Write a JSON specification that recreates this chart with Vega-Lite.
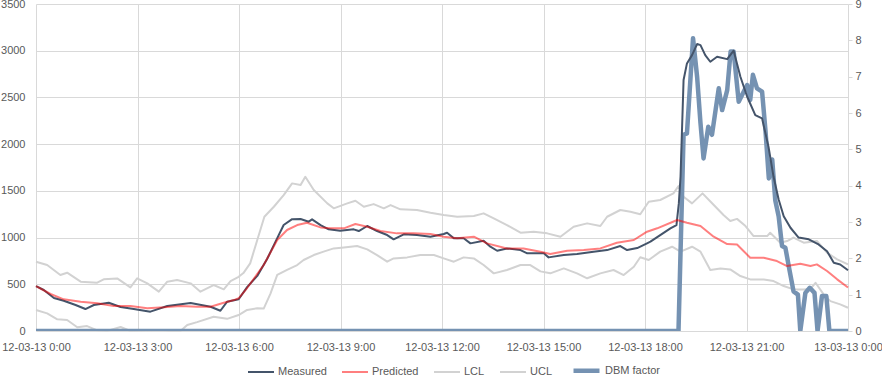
{
  "$schema": "https://vega.github.io/schema/vega-lite/v6.json",
  "width": 812,
  "height": 327,
  "autosize": "none",
  "padding": {"left": 36, "top": 4, "right": 34, "bottom": 47},
  "background": "white",
  "config": {
    "view": {"stroke": null},
    "font": "Liberation Sans",
    "axis": {"labelFont": "Liberation Sans", "labelFontSize": 11, "labelColor": "#595959", "gridColor": "#D9D9D9", "gridWidth": 1, "domain": false, "ticks": false, "title": null}
  },
  "datasets": {
    "m": [
      {"s":"Measured","h":0,"v":480},{"s":"Measured","h":0.23,"v":439},{"s":"Measured","h":0.53,"v":353},{"s":"Measured","h":0.82,"v":324},{"s":"Measured","h":1.17,"v":278},{"s":"Measured","h":1.46,"v":235},{"s":"Measured","h":1.71,"v":278},{"s":"Measured","h":2.15,"v":303},{"s":"Measured","h":2.5,"v":257},{"s":"Measured","h":2.89,"v":235},{"s":"Measured","h":3.38,"v":207},{"s":"Measured","h":3.88,"v":268},{"s":"Measured","h":4.57,"v":300},{"s":"Measured","h":5.16,"v":260},{"s":"Measured","h":5.45,"v":217},{"s":"Measured","h":5.65,"v":314},{"s":"Measured","h":5.99,"v":340},{"s":"Measured","h":6.24,"v":470},{"s":"Measured","h":6.54,"v":590},{"s":"Measured","h":6.83,"v":770},{"s":"Measured","h":7.08,"v":956},{"s":"Measured","h":7.32,"v":1134},{"s":"Measured","h":7.57,"v":1197},{"s":"Measured","h":7.82,"v":1198},{"s":"Measured","h":8.06,"v":1170},{"s":"Measured","h":8.16,"v":1195},{"s":"Measured","h":8.41,"v":1134},{"s":"Measured","h":8.65,"v":1088},{"s":"Measured","h":8.99,"v":1073},{"s":"Measured","h":9.39,"v":1088},{"s":"Measured","h":9.54,"v":1070},{"s":"Measured","h":9.79,"v":1124},{"s":"Measured","h":10.08,"v":1070},{"s":"Measured","h":10.38,"v":1027},{"s":"Measured","h":10.57,"v":981},{"s":"Measured","h":10.87,"v":1035},{"s":"Measured","h":11.26,"v":1027},{"s":"Measured","h":11.66,"v":1009},{"s":"Measured","h":12.05,"v":1038},{"s":"Measured","h":12.15,"v":1052},{"s":"Measured","h":12.35,"v":992},{"s":"Measured","h":12.64,"v":992},{"s":"Measured","h":12.84,"v":938},{"s":"Measured","h":13.23,"v":966},{"s":"Measured","h":13.43,"v":902},{"s":"Measured","h":13.63,"v":859},{"s":"Measured","h":13.92,"v":884},{"s":"Measured","h":14.32,"v":866},{"s":"Measured","h":14.52,"v":831},{"s":"Measured","h":15.01,"v":831},{"s":"Measured","h":15.15,"v":788},{"s":"Measured","h":15.6,"v":813},{"s":"Measured","h":15.99,"v":824},{"s":"Measured","h":16.48,"v":849},{"s":"Measured","h":16.88,"v":866},{"s":"Measured","h":17.27,"v":909},{"s":"Measured","h":17.47,"v":866},{"s":"Measured","h":17.77,"v":888},{"s":"Measured","h":18.06,"v":938},{"s":"Measured","h":18.16,"v":956},{"s":"Measured","h":18.45,"v":1027},{"s":"Measured","h":18.75,"v":1099},{"s":"Measured","h":18.93,"v":1134},{"s":"Measured","h":19.0,"v":1366},{"s":"Measured","h":19.05,"v":1651},{"s":"Measured","h":19.14,"v":2686},{"s":"Measured","h":19.24,"v":2864},{"s":"Measured","h":19.39,"v":2953},{"s":"Measured","h":19.54,"v":3071},{"s":"Measured","h":19.64,"v":3060},{"s":"Measured","h":19.78,"v":2953},{"s":"Measured","h":19.93,"v":2882},{"s":"Measured","h":20.13,"v":2935},{"s":"Measured","h":20.43,"v":2910},{"s":"Measured","h":20.62,"v":3000},{"s":"Measured","h":20.82,"v":2721},{"s":"Measured","h":21.02,"v":2507},{"s":"Measured","h":21.26,"v":2311},{"s":"Measured","h":21.46,"v":2276},{"s":"Measured","h":21.65,"v":1972},{"s":"Measured","h":21.8,"v":1650},{"s":"Measured","h":21.95,"v":1407},{"s":"Measured","h":22.1,"v":1229},{"s":"Measured","h":22.3,"v":1105},{"s":"Measured","h":22.54,"v":1000},{"s":"Measured","h":22.84,"v":981},{"s":"Measured","h":23.13,"v":926},{"s":"Measured","h":23.38,"v":854},{"s":"Measured","h":23.58,"v":730},{"s":"Measured","h":23.77,"v":712},{"s":"Measured","h":24,"v":650}
    ],
    "p": [
      {"s":"Predicted","h":0,"v":480},{"s":"Predicted","h":0.43,"v":396},{"s":"Predicted","h":0.82,"v":339},{"s":"Predicted","h":1.32,"v":314},{"s":"Predicted","h":1.81,"v":296},{"s":"Predicted","h":2.3,"v":268},{"s":"Predicted","h":2.79,"v":268},{"s":"Predicted","h":3.29,"v":243},{"s":"Predicted","h":3.78,"v":253},{"s":"Predicted","h":4.27,"v":268},{"s":"Predicted","h":4.76,"v":260},{"s":"Predicted","h":5.16,"v":260},{"s":"Predicted","h":5.55,"v":303},{"s":"Predicted","h":5.85,"v":331},{"s":"Predicted","h":5.99,"v":350},{"s":"Predicted","h":6.24,"v":460},{"s":"Predicted","h":6.73,"v":706},{"s":"Predicted","h":7.13,"v":974},{"s":"Predicted","h":7.42,"v":1081},{"s":"Predicted","h":7.72,"v":1134},{"s":"Predicted","h":8.01,"v":1159},{"s":"Predicted","h":8.41,"v":1109},{"s":"Predicted","h":8.7,"v":1099},{"s":"Predicted","h":9.1,"v":1099},{"s":"Predicted","h":9.44,"v":1145},{"s":"Predicted","h":9.79,"v":1116},{"s":"Predicted","h":10.18,"v":1070},{"s":"Predicted","h":10.67,"v":1045},{"s":"Predicted","h":11.16,"v":1045},{"s":"Predicted","h":11.66,"v":1038},{"s":"Predicted","h":12.05,"v":1009},{"s":"Predicted","h":12.45,"v":992},{"s":"Predicted","h":12.94,"v":1009},{"s":"Predicted","h":13.33,"v":938},{"s":"Predicted","h":13.92,"v":884},{"s":"Predicted","h":14.41,"v":884},{"s":"Predicted","h":14.91,"v":849},{"s":"Predicted","h":15.2,"v":824},{"s":"Predicted","h":15.7,"v":859},{"s":"Predicted","h":16.19,"v":866},{"s":"Predicted","h":16.68,"v":884},{"s":"Predicted","h":17.17,"v":945},{"s":"Predicted","h":17.67,"v":974},{"s":"Predicted","h":18.06,"v":1063},{"s":"Predicted","h":18.36,"v":1099},{"s":"Predicted","h":18.95,"v":1188},{"s":"Predicted","h":19.24,"v":1159},{"s":"Predicted","h":19.64,"v":1124},{"s":"Predicted","h":20.03,"v":1009},{"s":"Predicted","h":20.43,"v":930},{"s":"Predicted","h":20.72,"v":926},{"s":"Predicted","h":21.11,"v":784},{"s":"Predicted","h":21.51,"v":784},{"s":"Predicted","h":21.9,"v":749},{"s":"Predicted","h":22.2,"v":695},{"s":"Predicted","h":22.59,"v":720},{"s":"Predicted","h":22.89,"v":695},{"s":"Predicted","h":23.08,"v":713},{"s":"Predicted","h":23.38,"v":642},{"s":"Predicted","h":23.68,"v":553},{"s":"Predicted","h":24,"v":465}
    ],
    "g": [
      {"s":"UCL","h":0,"v":742},{"s":"UCL","h":0.33,"v":706},{"s":"UCL","h":0.72,"v":599},{"s":"UCL","h":0.92,"v":624},{"s":"UCL","h":1.32,"v":528},{"s":"UCL","h":1.81,"v":517},{"s":"UCL","h":2.0,"v":553},{"s":"UCL","h":2.4,"v":563},{"s":"UCL","h":2.79,"v":467},{"s":"UCL","h":2.99,"v":563},{"s":"UCL","h":3.29,"v":510},{"s":"UCL","h":3.63,"v":421},{"s":"UCL","h":3.88,"v":528},{"s":"UCL","h":4.17,"v":546},{"s":"UCL","h":4.57,"v":510},{"s":"UCL","h":4.86,"v":421},{"s":"UCL","h":5.25,"v":492},{"s":"UCL","h":5.55,"v":446},{"s":"UCL","h":5.75,"v":535},{"s":"UCL","h":5.99,"v":580},{"s":"UCL","h":6.13,"v":620},{"s":"UCL","h":6.33,"v":724},{"s":"UCL","h":6.54,"v":974},{"s":"UCL","h":6.75,"v":1223},{"s":"UCL","h":7.03,"v":1330},{"s":"UCL","h":7.32,"v":1455},{"s":"UCL","h":7.57,"v":1580},{"s":"UCL","h":7.82,"v":1562},{"s":"UCL","h":7.96,"v":1651},{"s":"UCL","h":8.21,"v":1509},{"s":"UCL","h":8.61,"v":1366},{"s":"UCL","h":8.8,"v":1313},{"s":"UCL","h":9.2,"v":1366},{"s":"UCL","h":9.44,"v":1394},{"s":"UCL","h":9.69,"v":1330},{"s":"UCL","h":9.98,"v":1358},{"s":"UCL","h":10.28,"v":1313},{"s":"UCL","h":10.48,"v":1348},{"s":"UCL","h":10.77,"v":1302},{"s":"UCL","h":11.26,"v":1295},{"s":"UCL","h":11.66,"v":1266},{"s":"UCL","h":12.05,"v":1241},{"s":"UCL","h":12.45,"v":1223},{"s":"UCL","h":12.94,"v":1230},{"s":"UCL","h":13.23,"v":1259},{"s":"UCL","h":13.53,"v":1205},{"s":"UCL","h":13.92,"v":1134},{"s":"UCL","h":14.32,"v":1052},{"s":"UCL","h":14.71,"v":1063},{"s":"UCL","h":15.11,"v":1045},{"s":"UCL","h":15.5,"v":1009},{"s":"UCL","h":15.89,"v":1116},{"s":"UCL","h":16.29,"v":1152},{"s":"UCL","h":16.68,"v":1124},{"s":"UCL","h":16.88,"v":1223},{"s":"UCL","h":17.27,"v":1295},{"s":"UCL","h":17.57,"v":1277},{"s":"UCL","h":17.86,"v":1250},{"s":"UCL","h":18.11,"v":1384},{"s":"UCL","h":18.45,"v":1402},{"s":"UCL","h":18.84,"v":1473},{"s":"UCL","h":18.99,"v":1551},{"s":"UCL","h":19.14,"v":1437},{"s":"UCL","h":19.39,"v":1366},{"s":"UCL","h":19.7,"v":1473},{"s":"UCL","h":19.94,"v":1384},{"s":"UCL","h":20.32,"v":1241},{"s":"UCL","h":20.52,"v":1177},{"s":"UCL","h":20.72,"v":1200},{"s":"UCL","h":20.97,"v":1123},{"s":"UCL","h":21.21,"v":1016},{"s":"UCL","h":21.61,"v":1016},{"s":"UCL","h":21.7,"v":1052},{"s":"UCL","h":22.0,"v":945},{"s":"UCL","h":22.2,"v":963},{"s":"UCL","h":22.39,"v":1000},{"s":"UCL","h":22.69,"v":945},{"s":"UCL","h":23.08,"v":963},{"s":"UCL","h":23.38,"v":838},{"s":"UCL","h":23.68,"v":766},{"s":"UCL","h":24,"v":713},
      {"s":"LCL","h":0,"v":225},{"s":"LCL","h":0.33,"v":189},{"s":"LCL","h":0.63,"v":125},{"s":"LCL","h":0.92,"v":118},{"s":"LCL","h":1.22,"v":40},{"s":"LCL","h":1.51,"v":53},{"s":"LCL","h":1.81,"v":7},{"s":"LCL","h":2.1,"v":0},{"s":"LCL","h":2.5,"v":43},{"s":"LCL","h":2.79,"v":0},{"s":"LCL","h":3.68,"v":11},{"s":"LCL","h":3.97,"v":0},{"s":"LCL","h":4.27,"v":0},{"s":"LCL","h":4.47,"v":64},{"s":"LCL","h":4.76,"v":95},{"s":"LCL","h":5.25,"v":153},{"s":"LCL","h":5.65,"v":130},{"s":"LCL","h":5.99,"v":171},{"s":"LCL","h":6.24,"v":225},{"s":"LCL","h":6.54,"v":243},{"s":"LCL","h":6.73,"v":240},{"s":"LCL","h":6.93,"v":400},{"s":"LCL","h":7.13,"v":600},{"s":"LCL","h":7.42,"v":655},{"s":"LCL","h":7.72,"v":706},{"s":"LCL","h":7.91,"v":760},{"s":"LCL","h":8.21,"v":813},{"s":"LCL","h":8.5,"v":849},{"s":"LCL","h":8.8,"v":884},{"s":"LCL","h":9.1,"v":895},{"s":"LCL","h":9.49,"v":909},{"s":"LCL","h":9.79,"v":874},{"s":"LCL","h":10.08,"v":813},{"s":"LCL","h":10.38,"v":742},{"s":"LCL","h":10.57,"v":777},{"s":"LCL","h":10.97,"v":788},{"s":"LCL","h":11.36,"v":813},{"s":"LCL","h":11.76,"v":813},{"s":"LCL","h":12.05,"v":777},{"s":"LCL","h":12.35,"v":742},{"s":"LCL","h":12.64,"v":788},{"s":"LCL","h":12.94,"v":777},{"s":"LCL","h":13.23,"v":706},{"s":"LCL","h":13.53,"v":617},{"s":"LCL","h":13.92,"v":653},{"s":"LCL","h":14.32,"v":706},{"s":"LCL","h":14.61,"v":706},{"s":"LCL","h":14.91,"v":638},{"s":"LCL","h":15.2,"v":617},{"s":"LCL","h":15.6,"v":670},{"s":"LCL","h":15.99,"v":617},{"s":"LCL","h":16.29,"v":564},{"s":"LCL","h":16.68,"v":617},{"s":"LCL","h":17.07,"v":653},{"s":"LCL","h":17.37,"v":599},{"s":"LCL","h":17.67,"v":688},{"s":"LCL","h":17.86,"v":790},{"s":"LCL","h":18.11,"v":760},{"s":"LCL","h":18.45,"v":849},{"s":"LCL","h":18.8,"v":902},{"s":"LCL","h":19.05,"v":849},{"s":"LCL","h":19.39,"v":902},{"s":"LCL","h":19.64,"v":849},{"s":"LCL","h":19.93,"v":653},{"s":"LCL","h":20.23,"v":670},{"s":"LCL","h":20.52,"v":659},{"s":"LCL","h":20.82,"v":588},{"s":"LCL","h":21.11,"v":552},{"s":"LCL","h":21.51,"v":552},{"s":"LCL","h":21.8,"v":534},{"s":"LCL","h":22.1,"v":481},{"s":"LCL","h":22.39,"v":445},{"s":"LCL","h":22.69,"v":445},{"s":"LCL","h":22.89,"v":450},{"s":"LCL","h":23.04,"v":516},{"s":"LCL","h":23.28,"v":392},{"s":"LCL","h":23.48,"v":320},{"s":"LCL","h":23.77,"v":285},{"s":"LCL","h":24,"v":249}
    ],
    "d": [
      {"s":"DBM factor","h":0,"v":0},{"s":"DBM factor","h":18.99,"v":0},{"s":"DBM factor","h":19.14,"v":5.4},{"s":"DBM factor","h":19.24,"v":5.44},{"s":"DBM factor","h":19.42,"v":8.06},{"s":"DBM factor","h":19.54,"v":7.0},{"s":"DBM factor","h":19.64,"v":5.72},{"s":"DBM factor","h":19.73,"v":4.75},{"s":"DBM factor","h":19.87,"v":5.62},{"s":"DBM factor","h":19.98,"v":5.4},{"s":"DBM factor","h":20.18,"v":6.68},{"s":"DBM factor","h":20.28,"v":6.08},{"s":"DBM factor","h":20.43,"v":6.63},{"s":"DBM factor","h":20.53,"v":7.69},{"s":"DBM factor","h":20.62,"v":7.69},{"s":"DBM factor","h":20.77,"v":6.31},{"s":"DBM factor","h":20.92,"v":6.59},{"s":"DBM factor","h":21.02,"v":6.77},{"s":"DBM factor","h":21.11,"v":6.36},{"s":"DBM factor","h":21.19,"v":7.05},{"s":"DBM factor","h":21.31,"v":6.68},{"s":"DBM factor","h":21.46,"v":6.59},{"s":"DBM factor","h":21.56,"v":5.53},{"s":"DBM factor","h":21.66,"v":4.2},{"s":"DBM factor","h":21.76,"v":4.72},{"s":"DBM factor","h":21.85,"v":3.6},{"s":"DBM factor","h":21.95,"v":3.16},{"s":"DBM factor","h":22.05,"v":2.34},{"s":"DBM factor","h":22.15,"v":2.29},{"s":"DBM factor","h":22.25,"v":1.78},{"s":"DBM factor","h":22.39,"v":1.09},{"s":"DBM factor","h":22.52,"v":1.0},{"s":"DBM factor","h":22.59,"v":0},{"s":"DBM factor","h":22.74,"v":1.05},{"s":"DBM factor","h":22.87,"v":1.19},{"s":"DBM factor","h":23.01,"v":1.05},{"s":"DBM factor","h":23.1,"v":0},{"s":"DBM factor","h":23.23,"v":0.96},{"s":"DBM factor","h":23.36,"v":0.96},{"s":"DBM factor","h":23.45,"v":0},{"s":"DBM factor","h":24,"v":0}
    ]
  },
  "encoding": {
    "x": {
      "field": "h", "type": "quantitative",
      "scale": {"domain": [0, 24], "nice": false, "zero": false},
      "axis": {"values": [0, 3, 6, 9, 12, 15, 18, 21, 24], "grid": true, "labelPadding": 10, "labelFlush": false, "labelOverlap": false, "labelBound": false,
        "labelExpr": "datum.value == 24 ? '13-03-13 0:00' : '12-03-13 ' + datum.value + ':00'"}
    },
    "color": {
      "field": "s", "type": "nominal",
      "scale": {"domain": ["Measured", "Predicted", "LCL", "UCL", "DBM factor"], "range": ["#44546A", "rgba(255,0,0,0.5)", "#D2D2D2", "#D2D2D2", "#7592B2"]},
      "legend": {"orient": "none", "legendX": 211, "legendY": 351, "direction": "horizontal", "title": null, "symbolType": "stroke", "symbolSize": 676, "labelFont": "Liberation Sans", "labelFontSize": 11, "labelColor": "#595959", "columnPadding": 11, "labelOffset": 3, "padding": 0}
    },
    "strokeWidth": {
      "field": "s", "type": "nominal",
      "scale": {"type": "ordinal", "domain": ["Measured", "Predicted", "LCL", "UCL", "DBM factor"], "range": [2, 2, 2, 2, 4.5]},
      "legend": {"orient": "none", "legendX": 211, "legendY": 351, "direction": "horizontal", "title": null, "symbolType": "stroke", "symbolSize": 676, "labelFont": "Liberation Sans", "labelFontSize": 11, "labelColor": "#595959", "columnPadding": 11, "labelOffset": 3, "padding": 0}
    }
  },
  "layer": [
    {
      "data": {"name": "g"},
      "mark": {"type": "line", "strokeJoin": "round"},
      "encoding": {
        "y": {"field": "v", "type": "quantitative", "scale": {"domain": [0, 3500], "nice": false},
          "axis": {"values": [0, 500, 1000, 1500, 2000, 2500, 3000, 3500], "format": "d", "grid": true, "labelPadding": 11}}
      }
    },
    {
      "data": {"name": "d"},
      "mark": {"type": "line", "clip": true, "strokeJoin": "round", "strokeCap": "round"},
      "encoding": {
        "y": {"field": "v", "type": "quantitative", "scale": {"domain": [0, 9], "nice": false},
          "axis": {"orient": "right", "values": [0, 1, 2, 3, 4, 5, 6, 7, 8, 9], "format": "d", "grid": false, "ticks": true, "tickSize": 4, "tickColor": "#D9D9D9", "labelPadding": 3}}
      }
    },
    {
      "layer": [
        {"data": {"name": "m"}, "mark": {"type": "line", "strokeJoin": "round"}},
        {"data": {"name": "p"}, "mark": {"type": "line", "strokeJoin": "round"}}
      ],
      "encoding": {
        "y": {"field": "v", "type": "quantitative", "scale": {"domain": [0, 3500], "nice": false}, "axis": null}
      }
    }
  ],
  "resolve": {"scale": {"y": "independent"}}
}
